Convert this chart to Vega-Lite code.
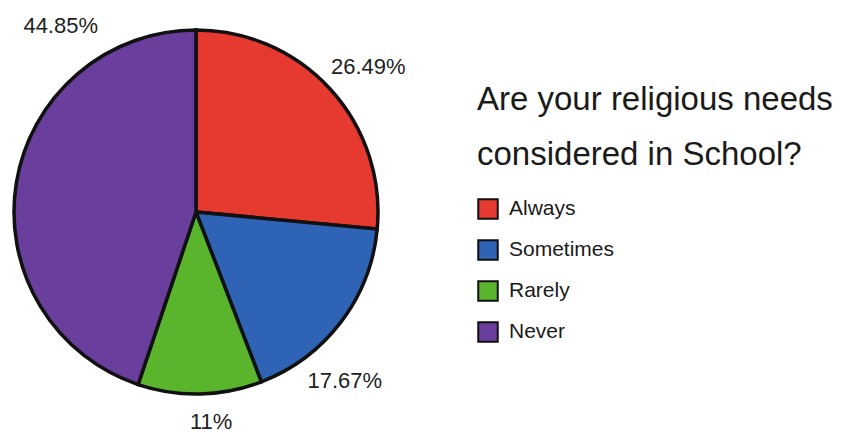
{
  "$schema": "https://vega.github.io/schema/vega-lite/v6.json",
  "width": 392,
  "height": 424,
  "padding": 0,
  "autosize": {"type": "pad"},
  "background": "white",
  "view": {"stroke": null},
  "data": {
    "values": [
      {"Answer": "Always", "Percent": 26.49, "Label": "26.49%", "Order": 1},
      {"Answer": "Sometimes", "Percent": 17.67, "Label": "17.67%", "Order": 2},
      {"Answer": "Rarely", "Percent": 11, "Label": "11%", "Order": 3},
      {"Answer": "Never", "Percent": 44.85, "Label": "44.85%", "Order": 4}
    ]
  },
  "encoding": {
    "theta": {"field": "Percent", "type": "quantitative", "stack": true},
    "order": {"field": "Order", "type": "quantitative"}
  },
  "layer": [
    {
      "mark": {"type": "arc", "outerRadius": 182, "stroke": "#111", "strokeWidth": 3.5},
      "encoding": {
        "color": {
          "field": "Answer",
          "type": "nominal",
          "scale": {
            "domain": ["Always", "Sometimes", "Rarely", "Never"],
            "range": ["#e63a30", "#2e63b5", "#5bb52c", "#6a3e9c"]
          },
          "legend": {
            "orient": "none",
            "legendX": 477,
            "legendY": 84,
            "title": ["Are your religious needs", "considered in School?"],
            "titleFont": "Liberation Sans",
            "titleFontSize": 33,
            "titleFontWeight": "normal",
            "titleColor": "#1a1a1a",
            "titleLineHeight": 55,
            "titleLimit": 500,
            "titlePadding": 26,
            "symbolType": "square",
            "symbolSize": 380,
            "symbolStrokeColor": "#111",
            "symbolStrokeWidth": 2,
            "symbolOpacity": 1,
            "labelFont": "Liberation Sans",
            "labelFontSize": 21,
            "labelColor": "#1a1a1a",
            "labelOffset": 10,
            "rowPadding": 13
          }
        }
      }
    },
    {
      "mark": {
        "type": "text",
        "radius": {"expr": "datum.Answer === 'Rarely' ? 211 : (datum.Answer === 'Never' ? 230 : 225)"},
        "font": "Liberation Sans",
        "fontSize": 22,
        "color": "#222",
        "thetaOffset": {"expr": "datum.Answer === 'Never' ? 0.78 : (datum.Answer === 'Sometimes' ? 0.2 : (datum.Answer === 'Always' ? 0.04 : -0.05))"}
      },
      "encoding": {
        "text": {"field": "Label", "type": "nominal"}
      }
    }
  ]
}
